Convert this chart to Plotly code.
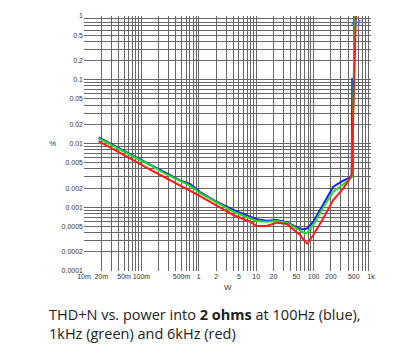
import plotly.graph_objects as go
import math

# Power (W) sample points
power = [0.018, 0.0284, 0.0424, 0.0774, 0.141, 0.258, 0.47, 0.703, 1.05, 2.05,
         3.99, 7.8, 10.2, 15.2, 22.8, 34, 58, 70.8, 77.6, 98.8, 147.6, 220, 329, 431, 461]

# THD+N (%) per frequency
thd_100hz = [0.01242, 0.0100, 0.0082, 0.00625, 0.00469, 0.00351, 0.00263, 0.00232, 0.00173, 0.00122,
             0.000906, 0.000711, 0.000647, 0.000615, 0.000631, 0.000581, 0.000456, 0.000451, 0.00047,
             0.000593, 0.00115, 0.0021, 0.00261, 0.00295, 0.00321]
thd_1khz = [0.01207, 0.00982, 0.00805, 0.00603, 0.0046, 0.00338, 0.00258, 0.00219, 0.00167, 0.00118,
            0.000851, 0.000671, 0.000608, 0.000593, 0.000608, 0.000573, 0.000424, 0.00039, 0.0004,
            0.000527, 0.000998, 0.001754, 0.00229, 0.00274, 0.00295]
thd_6khz = [0.01094, 0.00865, 0.0071, 0.00531, 0.00391, 0.00293, 0.00223, 0.00187, 0.0015, 0.00106,
            0.000756, 0.000593, 0.000508, 0.000508, 0.000573, 0.000546, 0.000367, 0.000288, 0.000272,
            0.000367, 0.000671, 0.0013, 0.00198, 0.00284, 0.00321]

# clipping tails
tail_100hz_p, tail_100hz_v = [472], [0.1065]
tail_1khz_p, tail_1khz_v = [526], [1.0]
tail_6khz_p, tail_6khz_v = [548], [1.2]

x_tick_labels = {0.01: "10m", 0.02: "20m", 0.05: "50m", 0.1: "100m", 0.5: "500m", 1: "1", 2: "2",
                 5: "5", 10: "10", 20: "20", 50: "50", 100: "100", 200: "200", 500: "500", 1000: "1k"}
y_tick_labels = {1: "1", 0.5: "0.5", 0.2: "0.2", 0.1: "0.1", 0.05: "0.05", 0.02: "0.02", 0.01: "0.01",
                 0.005: "0.005", 0.002: "0.002", 0.001: "0.001", 0.0005: "0.0005", 0.0002: "0.0002",
                 0.0001: "0.0001"}

def grid_vals(lo_exp, hi_exp):
    vals = []
    for e in range(lo_exp, hi_exp):
        for m in range(1, 10):
            vals.append(round(m * 10 ** e, 10))
    vals.append(round(10 ** hi_exp, 10))
    return vals

xv = grid_vals(-2, 3)
yv = grid_vals(-4, 0)

def lab(d, v):
    for k, t in d.items():
        if abs(k - v) < 1e-9 * max(1, v):
            return t
    return ""

xt = [lab(x_tick_labels, v) for v in xv]
yt = [lab(y_tick_labels, v) for v in yv]

fig = go.Figure()
series = [
    (power + tail_100hz_p, thd_100hz + tail_100hz_v, "#1a1aff"),
    (power + tail_1khz_p, thd_1khz + tail_1khz_v, "#22dd22"),
    (power + tail_6khz_p, thd_6khz + tail_6khz_v, "#ff1a1a"),
]
for xs, ys, c in series:
    fig.add_trace(go.Scatter(x=xs, y=ys, mode="lines", line=dict(color=c, width=2),
                             showlegend=False, hoverinfo="skip"))

fig.update_layout(
    width=400, height=358,
    margin=dict(l=84, r=29, t=16, b=87),
    paper_bgcolor="white", plot_bgcolor="white",
    font=dict(family="Liberation Sans, Arial, sans-serif", size=7, color="#333"),
    xaxis=dict(type="log", range=[math.log10(0.01), math.log10(1000)],
               tickvals=xv, ticktext=xt, ticks="", tickangle=0, showgrid=True,
               gridcolor="#666", gridwidth=1,
               zeroline=False, showline=False, tickfont=dict(size=7, color="#333")),
    yaxis=dict(type="log", range=[math.log10(0.0001), 0],
               tickvals=yv, ticktext=yt, ticks="", showgrid=True, gridcolor="#666", gridwidth=1,
               zeroline=False, showline=False, tickfont=dict(size=7, color="#333")),
    annotations=[
        dict(text="%", xref="paper", yref="paper", x=-0.11, y=0.5, xanchor="center",
             yanchor="middle", showarrow=False, font=dict(size=8, color="#333")),
        dict(text="W", xref="paper", yref="paper", x=0.5, y=-0.065, xanchor="center",
             yanchor="middle", showarrow=False, font=dict(size=8, color="#333")),
        dict(text="<i>Ap</i>", xref="paper", yref="paper", x=0.95, y=0.975, xanchor="center",
             yanchor="middle", showarrow=False, font=dict(size=10, color="#4a6fd0")),
        dict(text="THD+N vs. power into <b>2 ohms</b> at 100Hz (blue),<br>1kHz (green) and 6kHz (red)",
             xref="paper", yref="paper", x=-0.13, y=-0.125, xanchor="left", yanchor="top",
             align="left", showarrow=False,
             font=dict(family="Open Sans, sans-serif", size=14.5, color="#222")),
    ],
)
fig.write_html("out.html")
